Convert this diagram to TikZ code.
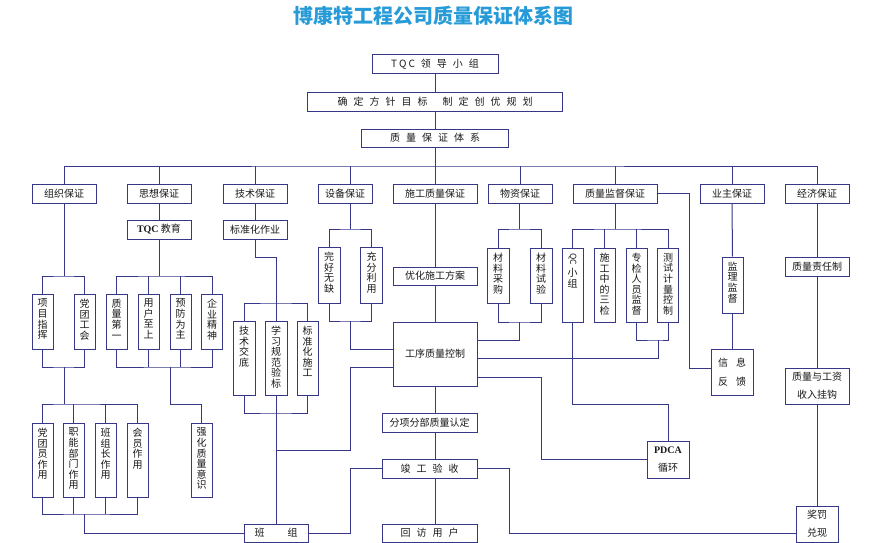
\documentclass[tikz,border=0pt]{standalone}
\usepackage{fontspec}
\usepackage{graphicx}
\setmainfont{Noto Sans CJK SC}
\newfontfamily\serifb{Liberation Serif}
\definecolor{lnc}{RGB}{55,55,135}
\definecolor{txc}{RGB}{25,25,25}
\definecolor{ttlc}{RGB}{38,155,215}
\newcommand\vtx[2]{\parbox[c][#1pt][t]{14pt}{\centering\fontsize{10}{10.6}\selectfont #2}}
\newcommand\gp{\hspace{6pt}}
\tikzset{
  bx/.style={draw=lnc, line width=1pt, fill=white, inner sep=0pt, text=txc,
    font=\fontsize{10}{12}\selectfont, align=center},
  tb/.style={bx, minimum width=64pt, minimum height=19pt},
  vb/.style={bx, minimum width=21pt},
  two/.style={font=\fontsize{10}{18}\selectfont},
  wire/.style={draw=lnc, line width=1pt}
}
\begin{document}
\begin{tikzpicture}[x=1pt,y=-1pt]
\fill[white] (0,0) rectangle (870,543);
\useasboundingbox (0,0) rectangle (870,543);

\node[font=\fontsize{20}{24}\selectfont\bfseries, text=ttlc] (title) at (433,16) {博康特工程公司质量保证体系图};

% top chain
\node[bx,minimum width=126pt,minimum height=19pt] (tqc) at (435,64.5) {T\hspace{2pt}Q\hspace{2pt}C\hspace{6pt}领\gp 导\gp 小\gp 组};
\node[bx,minimum width=255pt,minimum height=19pt] (goal) at (435,101.5) {确\gp 定\gp 方\gp 针\gp 目\gp 标\hspace{15pt}制\gp 定\gp 创\gp 优\gp 规\gp 划};
\node[bx,minimum width=147pt,minimum height=18pt] (sys) at (435,138) {质\gp 量\gp 保\gp 证\gp 体\gp 系};

% first row
\node[tb] (zz) at (64,193.5) {组织保证};
\node[tb] (sx) at (159,193.5) {思想保证};
\node[tb] (js) at (255,193.5) {技术保证};
\node[tb,minimum width=54pt] (sb) at (345,193.5) {设备保证};
\node[tb,minimum width=84pt] (sg) at (435,193.5) {施工质量保证};
\node[tb] (wz) at (520,193.5) {物资保证};
\node[tb,minimum width=84pt] (jd) at (615,193.5) {质量监督保证};
\node[tb] (yz) at (732,193.5) {业主保证};
\node[tb] (jj) at (817,193.5) {经济保证};

\node[tb] (tqcjy) at (159,229.5) {{\serifb\bfseries TQC} 教育};
\node[tb] (bzh) at (255,229.5) {标准化作业};

% vertical boxes, upper
\node[vb,minimum height=55pt] (xm) at (42.5,321.5) {\vtx{45}{项\\目\\指\\挥}};
\node[vb,minimum height=55pt] (dt) at (84.5,321.5) {\vtx{45}{党\\团\\工\\会}};
\node[vb,minimum height=55pt] (zl) at (116.5,321.5) {\vtx{45}{质\\量\\第\\一}};
\node[vb,minimum height=55pt] (yh) at (148.5,321.5) {\vtx{45}{用\\户\\至\\上}};
\node[vb,minimum height=55pt] (yf) at (180.5,321.5) {\vtx{45}{预\\防\\为\\主}};
\node[vb,minimum height=55pt] (qy) at (212,321.5) {\vtx{45}{企\\业\\精\\神}};

\node[vb,minimum width=22pt,minimum height=56pt] (wh) at (329,275) {\vtx{46}{完\\好\\无\\缺}};
\node[vb,minimum width=22pt,minimum height=56pt] (cf) at (371.5,275) {\vtx{46}{充\\分\\利\\用}};
\node[tb,minimum width=84pt,minimum height=18pt] (yhfa) at (435,276) {优化施工方案};
\node[vb,minimum width=22pt,minimum height=55pt] (clcg) at (498,275.5) {\vtx{45}{材\\料\\采\\购}};
\node[vb,minimum width=22pt,minimum height=55pt] (clsy) at (541,275.5) {\vtx{45}{材\\料\\试\\验}};
\node[vb,minimum height=74pt] (qc) at (572.5,285) {\vtx{64}{\rotatebox{-90}{\fontsize{8.5}{9}\selectfont QC}\\[3pt]小\\组}};
\node[vb,minimum height=74pt] (sj) at (604.5,285) {\vtx{64}{施\\工\\中\\的\\三\\检}};
\node[vb,minimum height=74pt] (zj) at (636.5,285) {\vtx{64}{专\\检\\人\\员\\监\\督}};
\node[vb,minimum height=74pt] (cs) at (668,285) {\vtx{64}{测\\试\\计\\量\\控\\制}};
\node[vb,minimum height=56pt] (jl) at (732.5,285) {\vtx{46}{监\\理\\监\\督}};
\node[tb] (zr) at (817,266.5) {质量责任制};

% middle
\node[vb,minimum width=22pt,minimum height=74pt] (jsjd) at (244,358) {\vtx{64}{技\\术\\交\\底}};
\node[vb,minimum width=22pt,minimum height=74pt] (xx) at (276,358) {\vtx{64}{学\\习\\规\\范\\验\\标}};
\node[vb,minimum height=74pt] (bzsg) at (307.5,358) {\vtx{64}{标\\准\\化\\施\\工}};
\node[bx,minimum width=84pt,minimum height=64pt] (gx) at (435,354) {工序质量控制};
\node[bx,minimum width=42pt,minimum height=46pt,font=\fontsize{10}{19}\selectfont] (xxfk) at (732,372) {信\hspace{8pt}息\\反\hspace{8pt}馈};
\node[bx,two,minimum width=64pt,minimum height=36pt] (zlgz) at (817,386) {质量与工资\\收入挂钩};
\node[bx,two,minimum width=42pt,minimum height=37pt] (pdca) at (668,459.5) {{\serifb\bfseries PDCA}\\循环};
\node[bx,two,minimum width=42pt,minimum height=36pt] (jf) at (817,524) {奖罚\\兑现};

% lower left
\node[vb,minimum height=74pt] (dty) at (42.5,460) {\vtx{64}{党\\团\\员\\作\\用}};
\node[vb,minimum height=74pt] (zn) at (73.5,460) {\vtx{64}{职\\能\\部\\门\\作\\用}};
\node[vb,minimum height=74pt] (bzz) at (105.5,460) {\vtx{64}{班\\组\\长\\作\\用}};
\node[vb,minimum height=74pt] (hy) at (137.5,460) {\vtx{64}{会\\员\\作\\用}};
\node[vb,minimum height=74pt] (qh) at (201.5,460) {\vtx{64}{强\\化\\质\\量\\意\\识}};

% bottom centre
\node[bx,minimum width=95pt,minimum height=19pt] (fx) at (429.5,422.5) {分项分部质量认定};
\node[bx,minimum width=95pt,minimum height=19pt] (jg) at (429.5,468.5) {竣\gp 工\gp 验\gp 收};
\node[bx,minimum width=95pt,minimum height=18pt] (hf) at (429.5,533) {回\gp 访\gp 用\gp 户};
\node[bx,minimum width=64pt,minimum height=18pt] (bz) at (276,533) {班\hspace{23pt}组};

% ---------- wires ----------
\coordinate (bus) at (435,166);
\draw[wire] (tqc.south) -- (goal.north);
\draw[wire] (goal.south) -- (sys.north);
\draw[wire] (sys.south) -- (bus);
\draw[wire] (zz.north) |- (bus) -| (jj.north);
\foreach \n in {sx,js,sg,wz,jd,yz} \draw[wire] (\n.north) -- (\n.north |- bus);
\coordinate (sbx) at (350,229);
\draw[wire] (sbx |- bus) -- (sbx |- sb.north);

% organisation
\coordinate (j1) at (64,276);
\draw[wire] (zz.south) -- (j1);
\draw[wire] (xm.north) |- (j1) -| (dt.north);
\coordinate (j2) at (64,367);
\coordinate (j3) at (64,404);
\draw[wire] (xm.south) |- (j2) -| (dt.south);
\draw[wire] (j2) -- (j3);
\draw[wire] (dty.north) |- (j3) -| (hy.north);
\draw[wire] (zn.north) -- (zn.north |- j3);
\draw[wire] (bzz.north) -- (bzz.north |- j3);
\coordinate (j4) at (84,514);
\draw[wire] (dty.south) |- (j4) -| (hy.south);
\draw[wire] (zn.south) -- (zn.south |- j4);
\draw[wire] (bzz.south) -- (bzz.south |- j4);
\draw[wire] (j4) |- (bz.west);

% thought
\draw[wire] (sx.south) -- (tqcjy.north);
\coordinate (j5) at (159,276);
\draw[wire] (tqcjy.south) -- (j5);
\draw[wire] (zl.north) |- (j5) -| (qy.north);
\draw[wire] (yh.north) -- (yh.north |- j5);
\draw[wire] (yf.north) -- (yf.north |- j5);
\coordinate (j6) at (170,367);
\coordinate (j7) at (170,404);
\draw[wire] (zl.south) |- (j6) -| (qy.south);
\draw[wire] (yh.south) -- (yh.south |- j6);
\draw[wire] (yf.south) -- (yf.south |- j6);
\draw[wire] (j6) -- (j7) -| (qh.north);

% technique
\draw[wire] (js.south) -- (bzh.north);
\coordinate (j8) at (276,257);
\draw[wire] (bzh.south) |- (j8) -- (xx.north);
\coordinate (j9) at (276,303);
\draw[wire] (jsjd.north) |- (j9) -| (bzsg.north);
\coordinate (j10) at (276,413);
\draw[wire] (jsjd.south) |- (j10) -| (bzsg.south);
\draw[wire] (xx.south) -- (bz.north);
\coordinate (j11) at (276,450);
\coordinate (j12) at (350,450);
\coordinate (k367) at (350,367);
\draw[wire] (j11) -- (j12) -- (k367) -- (gx.west |- k367);

% equipment
\draw[wire] (sbx |- sb.south) -- (sbx);
\draw[wire] (wh.north) |- (sbx) -| (cf.north);
\coordinate (k321) at (350,321);
\coordinate (k349) at (350,349);
\draw[wire] (wh.south) |- (k321) -| (cf.south);
\draw[wire] (k321) -- (k349) -- (gx.west |- k349);

% construction quality
\draw[wire] (sg.south) -- (yhfa.north);
\draw[wire] (yhfa.south) -- (gx.north);
\draw[wire] (gx.south) -- (gx.south |- fx.north);
\draw[wire] (gx.south |- fx.south) -- (gx.south |- jg.north);
\draw[wire] (gx.south |- jg.south) -- (gx.south |- hf.north);
\coordinate (m1) at (350,0);
\coordinate (m2) at (509,0);
\draw[wire] (jg.west) -- (jg.west -| m1) |- (bz.east);
\draw[wire] (jg.east) -- (jg.east -| m2) |- (jf.west |- bz.east);

% materials
\coordinate (wzx) at (519,229);
\draw[wire] (wzx |- wz.south) -- (wzx);
\draw[wire] (clcg.north) |- (wzx) -| (clsy.north);
\coordinate (w2) at (519,322);
\coordinate (w3) at (519,340);
\draw[wire] (clcg.south) |- (w2) -| (clsy.south);
\draw[wire] (w2) -- (w3) -- (gx.east |- w3);

% supervision
\coordinate (q1) at (615,229);
\draw[wire] (jd.south) -- (q1);
\draw[wire] (qc.north) |- (q1) -| (cs.north);
\draw[wire] (sj.north) -- (sj.north |- q1);
\draw[wire] (zj.north) -- (zj.north |- q1);
\coordinate (q2) at (658,340);
\coordinate (q3) at (658,358);
\draw[wire] (zj.south) |- (q2) -| (cs.south);
\draw[wire] (q2) -- (q3) -- (gx.east |- q3);
\coordinate (q4) at (668,404);
\draw[wire] (qc.south) |- (q4) -- (pdca.north);
\coordinate (q5) at (541,377);
\draw[wire] (gx.east |- q5) -- (q5) |- (pdca.west);
\coordinate (q7) at (689,193.5);
\coordinate (q8) at (689,368);
\draw[wire] (jd.east) -- (q7) -- (q8) -- (xxfk.west |- q8);

% owner
\draw[wire] (yz.south) -- (jl.north);
\draw[wire] (jl.south) -- (jl.south |- xxfk.north);

% economy
\draw[wire] (jj.south) -- (zr.north);
\draw[wire] (zr.south) -- (zlgz.north);
\draw[wire] (zlgz.south) -- (jf.north);
\end{tikzpicture}
\end{document}
